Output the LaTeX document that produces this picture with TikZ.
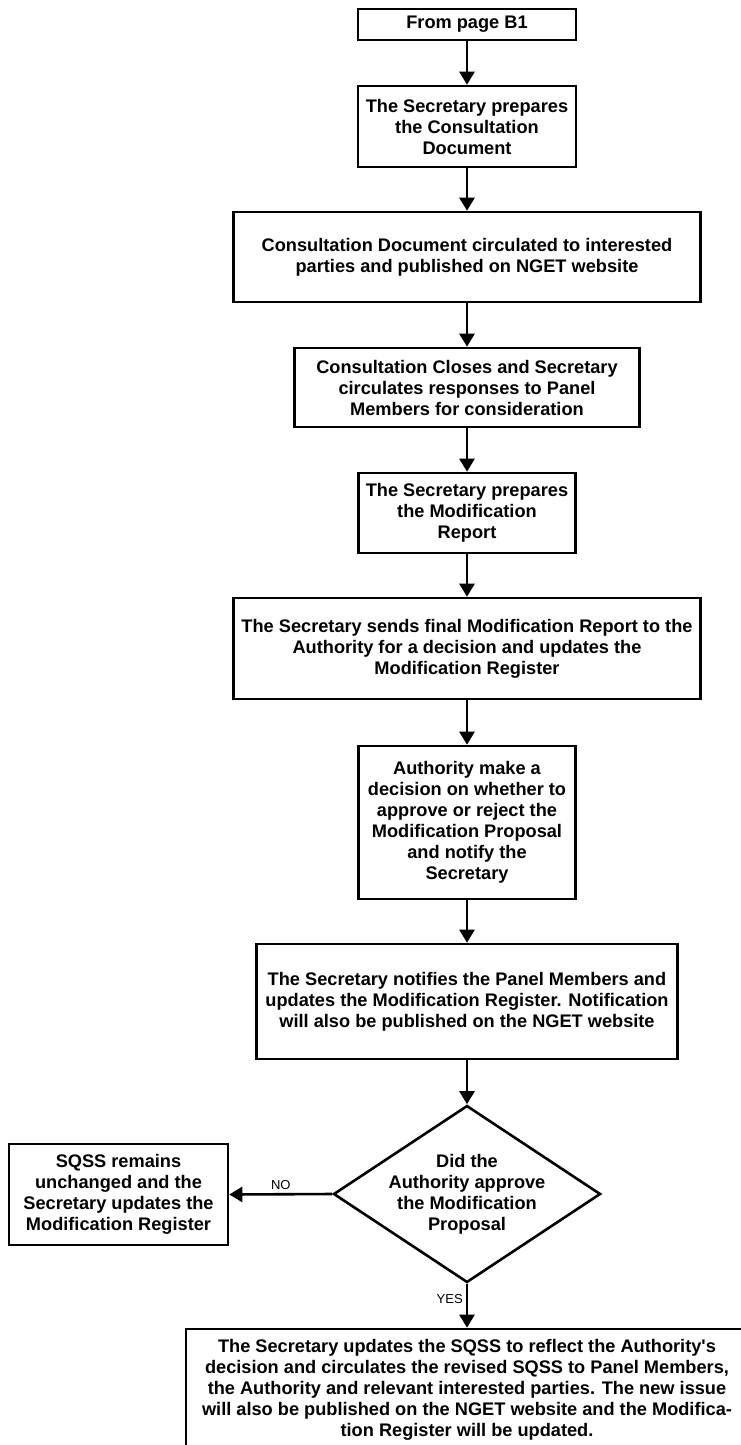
\documentclass[tikz,border=0pt]{standalone}
\usepackage{fontspec}
\setmainfont{Liberation Sans}
\usetikzlibrary{arrows.meta,shapes.geometric}
\begin{document}
\begin{tikzpicture}[x=1pt,y=-1pt]

        \useasboundingbox (0,0) rectangle (741,1445);
        \clip (0,0) rectangle (741,1445);

        \begin{scope}[every node/.style={rectangle,draw,line width=2.6pt,align=center,inner sep=0pt,
            font=\fontsize{18.2}{21}\selectfont\bfseries}]
          \node[minimum width=218,minimum height=31]  (b1)  at (467,24.5)   {From page B1};
          \node[minimum width=218,minimum height=81]  (b2)  at (467,126.5)  {The Secretary prepares\\the Consultation\\Document};
          \node[minimum width=467,minimum height=90]  (b3)  at (467,257)    {Consultation Document circulated to interested\\parties and published on NGET website};
          \node[minimum width=345,minimum height=79]  (b4)  at (467,387.5)  {Consultation Closes and Secretary\\circulates responses to Panel\\Members for consideration};
          \node[minimum width=217,minimum height=80]  (b5)  at (467,513)    {The Secretary prepares\\the Modification\\Report};
          \node[minimum width=467,minimum height=101] (b6)  at (467,648.5)  {The Secretary sends final Modification Report to the\\Authority for a decision and updates the\\Modification Register};
          \node[minimum width=217,minimum height=153] (b7)  at (467,822.5)  {Authority make a\\decision on whether to\\approve or reject the\\Modification Proposal\\and notify the\\Secretary};
          \node[minimum width=421,minimum height=115] (b8)  at (467,1001.5) {The Secretary notifies the Panel Members and\\updates the Modification Register. Notification\\will also be published on the NGET website};
          \node[minimum width=219,minimum height=101] (no)  at (118.5,1194.5) {SQSS remains\\unchanged and the\\Secretary updates the\\Modification Register};
          \node[minimum width=562,minimum height=121] (yes) at (467,1389.5) {The Secretary updates the SQSS to reflect the Authority\textquotesingle s\\decision and circulates the revised SQSS to Panel Members,\\the Authority and relevant interested parties. The new issue\\will also be published on the NGET website and the Modifica-\\tion Register will be updated.};
        \end{scope}

        \node[diamond,draw,line width=2.6pt,minimum width=267,minimum height=177,inner sep=0pt,
          label={[align=center,font=\fontsize{18.2}{21}\selectfont\bfseries]center:{Did the\\Authority approve\\the Modification\\Proposal}}]
          (q) at (467,1194) {};

        \begin{scope}[every node/.style={font=\fontsize{13}{15}\selectfont,inner sep=3pt}]
          \begin{scope}[every edge/.style={draw,line width=2.6pt,-{Triangle[width=15pt,length=13pt]}}]
            \path (b1) edge (b2);
            \path (b2) edge (b3);
            \path (b3) edge (b4);
            \path (b4) edge (b5);
            \path (b5) edge (b6);
            \path (b6) edge (b7);
            \path (b7) edge (b8);
            \path (b8) edge (q);
            \path (q.west)  edge node[above] {NO} (no.east);
            \path (q.south) edge node[left,pos=0.35] {YES} (yes);
          \end{scope}
        \end{scope}

      \end{tikzpicture}
\end{document}
